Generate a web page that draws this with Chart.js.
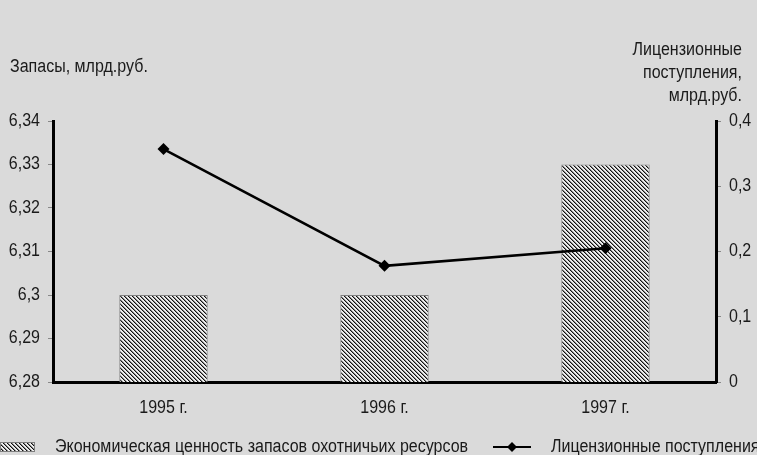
<!DOCTYPE html>
<html>
<head>
<meta charset="utf-8">
<script src="https://cdn.jsdelivr.net/npm/chart.js@4.4.1/dist/chart.umd.min.js"></script>
<style>
  html, body { margin: 0; padding: 0; background: #dadada; }
  #wrap { width: 757px; height: 455px; position: relative; }
</style>
</head>
<body>
<div id="wrap"><canvas id="c" width="757" height="455"></canvas></div>
<script>
// Годы
const categories = ['1995 г.', '1996 г.', '1997 г.'];
// Экономическая ценность запасов охотничьих ресурсов, млрд.руб.
const reserves = [6.30, 6.30, 6.33];
// Лицензионные поступления, млрд.руб.
const licenseIncome = [0.357, 0.178, 0.205];

const leftTitle = 'Запасы, млрд.руб.';
const rightTitle = ['Лицензионные', 'поступления,', 'млрд.руб.'];
const barLabel = 'Экономическая ценность запасов охотничьих ресурсов';
const lineLabel = 'Лицензионные поступления';

const FONT = '"Liberation Sans", Arial, sans-serif';
const FS = 18;
const SX = 0.89;            // горизонтальное сжатие шрифта (узкое начертание)
const TEXT = '#1a1a1a';

// Штриховка столбцов
function makeHatch() {
  const t = document.createElement('canvas');
  t.width = 4; t.height = 4;
  const g = t.getContext('2d');
  g.fillStyle = '#eeeeee';
  g.fillRect(0, 0, 4, 4);
  for (let i = 0; i < 4; i++) {
    g.fillStyle = '#111';
    g.fillRect(i, i, 1, 1);
    g.fillStyle = '#888';
    g.fillRect((i + 1) % 4, i, 1, 1);
  }
  return document.getElementById('c').getContext('2d').createPattern(t, 'repeat');
}
const hatch = makeHatch();

function narrowText(ctx, s, x, y, align) {
  ctx.save();
  ctx.translate(x, y);
  ctx.scale(SX, 1);
  ctx.textAlign = align;
  ctx.textBaseline = 'middle';
  ctx.fillText(s, 0, 0);
  ctx.restore();
}

const decorations = {
  id: 'decorations',
  beforeDraw(chart) {
    const ctx = chart.ctx;
    ctx.save();
    ctx.fillStyle = '#dadada';
    ctx.fillRect(0, 0, chart.width, chart.height);
    ctx.restore();
  },
  afterDraw(chart) {
    const ctx = chart.ctx;
    ctx.save();
    ctx.font = FS + 'px ' + FONT;
    ctx.fillStyle = TEXT;

    // Подписи осей (позиции берутся из шкал)
    const sy = chart.scales.y, sy1 = chart.scales.y1, sx = chart.scales.x;
    sy.ticks.forEach((t, i) => {
      narrowText(ctx, (Math.round(t.value * 100) / 100).toString().replace('.', ','), 40, sy.getPixelForTick(i), 'right');
    });
    sy1.ticks.forEach((t, i) => {
      narrowText(ctx, (Math.round(t.value * 10) / 10).toString().replace('.', ','), 729, sy1.getPixelForTick(i), 'left');
    });
    sx.ticks.forEach((t, i) => {
      narrowText(ctx, categories[i], sx.getPixelForTick(i), 408, 'center');
    });

    narrowText(ctx, leftTitle, 10, 67, 'left');
    rightTitle.forEach((s, i) => narrowText(ctx, s, 742, 50 + i * 23, 'right'));

    // Легенда
    const ly = 447;
    ctx.fillStyle = hatch;
    ctx.fillRect(0, ly - 5, 35, 10);
    ctx.strokeStyle = '#7f7f7f';
    ctx.lineWidth = 1;
    ctx.strokeRect(0.5, ly - 5 + 0.5, 34, 9);
    ctx.fillStyle = TEXT;
    narrowText(ctx, barLabel, 55, ly, 'left');
    ctx.strokeStyle = '#000';
    ctx.lineWidth = 2;
    ctx.beginPath();
    ctx.moveTo(493, ly); ctx.lineTo(531, ly);
    ctx.stroke();
    ctx.fillStyle = '#000';
    ctx.beginPath();
    ctx.moveTo(512, ly - 5); ctx.lineTo(517, ly); ctx.lineTo(512, ly + 5); ctx.lineTo(507, ly);
    ctx.closePath(); ctx.fill();
    ctx.fillStyle = TEXT;
    narrowText(ctx, lineLabel, 551, ly, 'left');
    ctx.restore();
  }
};

const hidden = 'rgba(0,0,0,0)';

new Chart(document.getElementById('c'), {
  type: 'bar',
  data: {
    labels: categories,
    datasets: [
      {
        type: 'line',
        label: lineLabel,
        data: licenseIncome,
        yAxisID: 'y1',
        borderColor: '#000',
        backgroundColor: '#000',
        borderWidth: 2.5,
        pointStyle: 'rectRot',
        pointRadius: 6,
        pointBorderWidth: 0,
        tension: 0,
        order: 0
      },
      {
        type: 'bar',
        label: barLabel,
        data: reserves,
        yAxisID: 'y',
        backgroundColor: hatch,
        borderColor: '#7f7f7f',
        borderWidth: 1,
        borderSkipped: 'bottom',
        barPercentage: 0.4,
        categoryPercentage: 1,
        order: 1
      }
    ]
  },
  options: {
    responsive: false,
    animation: false,
    layout: { padding: { left: 0, right: 0, top: 121, bottom: 0 } },
    plugins: { legend: { display: false }, tooltip: { enabled: false } },
    scales: {
      x: {
        grid: { display: false },
        border: { display: true, color: '#000', width: 3 },
        ticks: { color: hidden, maxRotation: 0 },
        afterFit(s) { s.height = 73; }
      },
      y: {
        position: 'left',
        min: 6.28, max: 6.34,
        grid: { drawOnChartArea: false, drawTicks: true, tickLength: 5, tickColor: '#888', tickWidth: 1 },
        border: { display: true, color: '#000', width: 3 },
        ticks: { stepSize: 0.01, color: hidden },
        afterFit(s) { s.width = 53; }
      },
      y1: {
        position: 'right',
        min: 0, max: 0.4,
        grid: { drawOnChartArea: false, drawTicks: true, tickLength: 5, tickColor: '#888', tickWidth: 1 },
        border: { display: true, color: '#000', width: 3 },
        ticks: { stepSize: 0.1, color: hidden },
        afterFit(s) { s.width = 41; }
      }
    }
  },
  plugins: [decorations]
});
</script>
</body>
</html>
